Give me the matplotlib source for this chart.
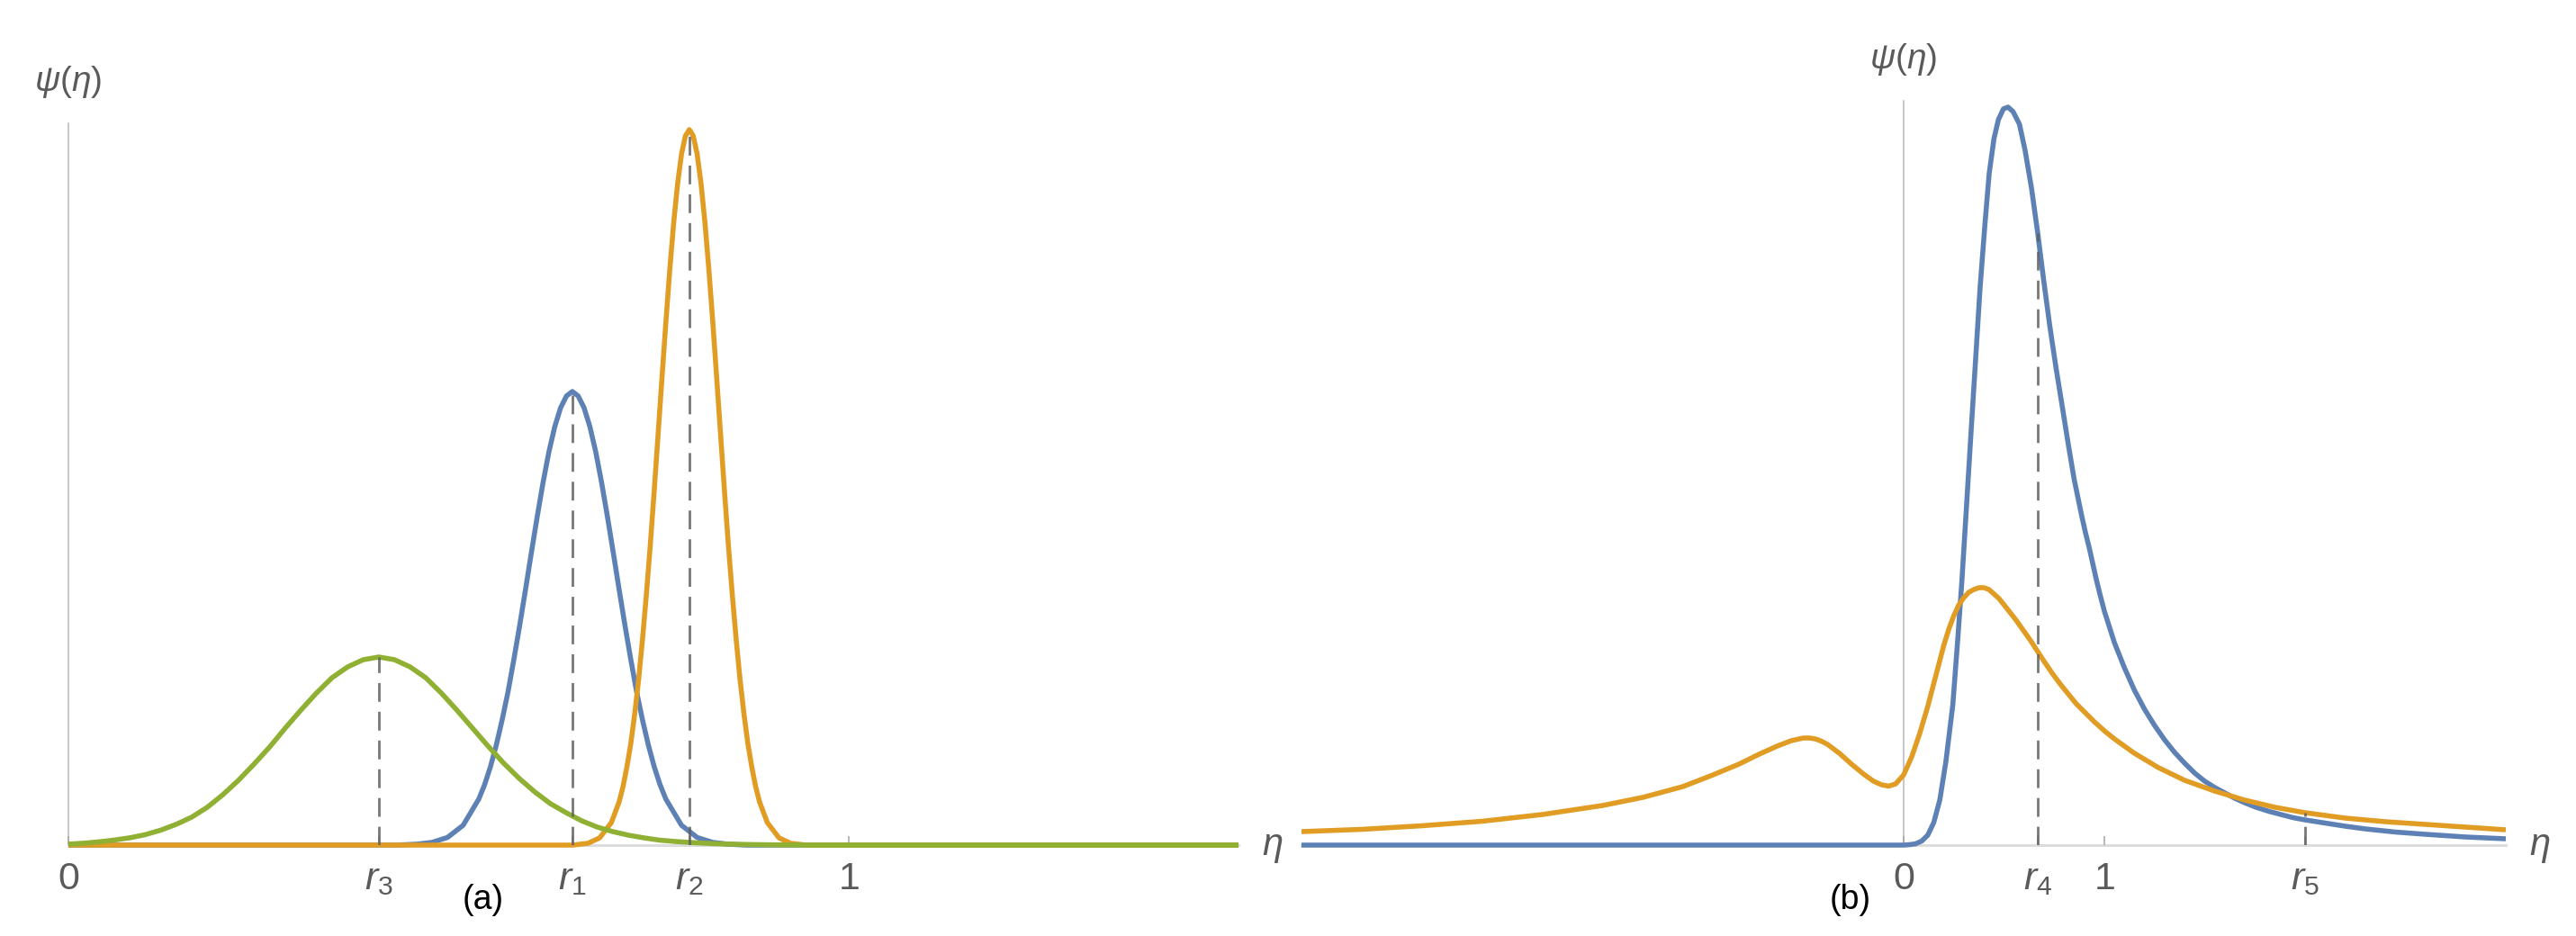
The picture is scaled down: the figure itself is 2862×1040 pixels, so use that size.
import matplotlib
matplotlib.use("Agg")
import matplotlib.pyplot as plt

plt.rcParams["font.family"] = ["Liberation Sans", "DejaVu Sans"]
plt.rcParams["mathtext.fontset"] = "custom"
plt.rcParams["mathtext.rm"] = "Liberation Sans"
plt.rcParams["mathtext.it"] = "Liberation Sans:italic"

BLUE = "#5e81b5"
ORANGE = "#e19c24"
GREEN = "#8fb032"

# ---- panel (a): values (psi in arbitrary units) ----
eta_a_blue = [0, 0.42, 0.446, 0.466, 0.486, 0.506, 0.526, 0.5335, 0.541, 0.5485, 0.556,
              0.5635, 0.571, 0.5785, 0.586, 0.5935, 0.601, 0.6085, 0.616, 0.6235, 0.631,
              0.6385, 0.646, 0.6535, 0.661, 0.6685, 0.676, 0.6835, 0.691, 0.6985, 0.706,
              0.7135, 0.721, 0.7285, 0.736, 0.7435, 0.751, 0.7585, 0.766, 0.786, 0.806,
              0.826, 0.846, 0.87, 1.5]
psi_a_blue = [0, 0, 0.01, 0.03, 0.085, 0.22, 0.51, 0.67, 0.87, 1.11, 1.39,
              1.7, 2.06, 2.44, 2.84, 3.25, 3.65, 4.03, 4.37, 4.65, 4.86,
              4.99, 5.04, 4.99, 4.86, 4.65, 4.37, 4.03, 3.65, 3.25, 2.84,
              2.44, 2.06, 1.7, 1.39, 1.11, 0.87, 0.67, 0.51, 0.22, 0.085,
              0.03, 0.01, 0, 0]

eta_a_orange = [0, 0.646, 0.666, 0.681, 0.696, 0.706, 0.711, 0.716, 0.721, 0.726, 0.731,
                0.736, 0.741, 0.746, 0.751, 0.756, 0.761, 0.766, 0.771, 0.776, 0.781,
                0.786, 0.791, 0.796, 0.801, 0.806, 0.811, 0.816, 0.821, 0.826, 0.831,
                0.836, 0.841, 0.846, 0.851, 0.856, 0.861, 0.866, 0.871, 0.876, 0.881,
                0.886, 0.896, 0.911, 0.926, 0.946, 1.5]
psi_a_orange = [0, 0, 0.02, 0.08, 0.25, 0.48, 0.65, 0.87, 1.13, 1.46, 1.84,
                2.29, 2.79, 3.34, 3.94, 4.57, 5.2, 5.82, 6.4, 6.92, 7.35,
                7.68, 7.88, 7.95, 7.88, 7.68, 7.35, 6.92, 6.4, 5.82, 5.2,
                4.57, 3.94, 3.34, 2.79, 2.29, 1.84, 1.46, 1.13, 0.87, 0.65,
                0.48, 0.25, 0.08, 0.02, 0, 0]

eta_a_green = [0, 0.018, 0.038, 0.058, 0.078, 0.098, 0.118, 0.138, 0.158, 0.178, 0.198,
               0.218, 0.238, 0.258, 0.278, 0.298, 0.318, 0.338, 0.358, 0.378, 0.398,
               0.418, 0.438, 0.458, 0.478, 0.498, 0.518, 0.538, 0.558, 0.578, 0.598,
               0.618, 0.638, 0.658, 0.678, 0.698, 0.718, 0.738, 0.758, 0.778, 0.8,
               0.83, 0.86, 0.9, 0.95, 1.5]
psi_a_green = [0.011, 0.02, 0.035, 0.055, 0.08, 0.115, 0.165, 0.23, 0.31, 0.42, 0.56,
               0.72, 0.9, 1.09, 1.3, 1.5, 1.69, 1.86, 1.98, 2.06, 2.09,
               2.06, 1.98, 1.86, 1.69, 1.5, 1.3, 1.1, 0.91, 0.74, 0.59,
               0.46, 0.36, 0.27, 0.2, 0.15, 0.11, 0.08, 0.055, 0.04, 0.028,
               0.015, 0.008, 0.003, 0, 0]

ticks_a = [0, 0.398, 0.646, 0.796, 1]
tick_labels_a = ["$0$", "$r_3$", "$r_1$", "$r_2$", "$1$"]
peaks_a = [0.398, 0.646, 0.796]
peak_heights_a = [2.09, 5.04, 7.95]

# ---- panel (b) ----
eta_b_blue = [-3.0, 0.0, 0.03, 0.06, 0.09, 0.12, 0.15, 0.18, 0.21, 0.245, 0.27,
              0.29, 0.31, 0.335, 0.36, 0.381, 0.405, 0.426, 0.45, 0.472, 0.497,
              0.52, 0.545, 0.577, 0.605, 0.637, 0.668, 0.698, 0.728, 0.758, 0.789,
              0.819, 0.849, 0.887, 0.906, 0.925, 0.943, 0.96, 0.98, 1.0, 1.05,
              1.1, 1.15, 1.2, 1.25, 1.3, 1.35, 1.4, 1.45, 1.5, 1.55,
              1.6, 1.65, 1.7, 1.756, 1.82, 1.88, 1.94, 2.0, 2.1, 2.2,
              2.3, 2.45, 2.6, 2.8, 3.0]
psi_b_blue = [0, 0, 0.005, 0.015, 0.045, 0.11, 0.25, 0.5, 0.92, 1.56, 2.3,
              2.93, 3.65, 4.56, 5.45, 6.2, 6.9, 7.46, 7.85, 8.06, 8.18,
              8.2, 8.15, 8.01, 7.72, 7.3, 6.8, 6.27, 5.77, 5.32, 4.89,
              4.47, 4.07, 3.66, 3.47, 3.3, 3.12, 2.95, 2.77, 2.6, 2.25,
              1.97, 1.72, 1.51, 1.33, 1.17, 1.03, 0.91, 0.8, 0.71, 0.64,
              0.58, 0.52, 0.47, 0.42, 0.375, 0.34, 0.305, 0.28, 0.245, 0.21,
              0.18, 0.145, 0.12, 0.09, 0.07]

eta_b_orange = [-3.0, -2.7, -2.4, -2.1, -1.8, -1.5, -1.3, -1.1, -0.95, -0.82, -0.72,
                -0.63, -0.56, -0.5, -0.47, -0.44, -0.41, -0.38, -0.32, -0.26, -0.2,
                -0.15, -0.11, -0.075, -0.04, 0.0, 0.04, 0.08, 0.12, 0.16, 0.2,
                0.225, 0.25, 0.275, 0.3, 0.325, 0.35, 0.375, 0.4, 0.425, 0.45,
                0.475, 0.5, 0.56, 0.63, 0.665, 0.7, 0.74, 0.78, 0.82, 0.86,
                0.905, 0.95, 1.0, 1.05, 1.1, 1.15, 1.21, 1.27, 1.335, 1.4,
                1.475, 1.55, 1.625, 1.7, 1.775, 1.85, 1.925, 2.0, 2.2, 2.4,
                2.6, 2.8, 3.0]
psi_b_orange = [0.15, 0.175, 0.215, 0.265, 0.34, 0.44, 0.53, 0.65, 0.78, 0.9, 1.01,
                1.1, 1.16, 1.19, 1.19, 1.18, 1.155, 1.12, 1.02, 0.9, 0.79,
                0.71, 0.67, 0.655, 0.68, 0.78, 0.98, 1.24, 1.54, 1.88, 2.22,
                2.4, 2.55, 2.67, 2.75, 2.81, 2.84, 2.86, 2.86, 2.84, 2.79,
                2.74, 2.67, 2.5, 2.28, 2.16, 2.04, 1.91, 1.79, 1.68, 1.57,
                1.47, 1.37, 1.27, 1.18, 1.1, 1.02, 0.94, 0.86, 0.79, 0.72,
                0.66, 0.6, 0.55, 0.5, 0.46, 0.42, 0.39, 0.36, 0.3, 0.26,
                0.23, 0.2, 0.17]

ticks_b = [0, 0.668, 1, 2.0]
tick_labels_b = ["$0$", "$r_4$", "$1$", "$r_5$"]
marks_b = [0.668, 2.0]
mark_heights_b = [6.8, 0.36]

W, H = 2862, 1040


def setup_axes(ax, xlim, ytop, ticks, labels):
    ax.set_xlim(*xlim)
    ax.set_ylim(0, ytop)
    ax.spines["top"].set_visible(False)
    ax.spines["right"].set_visible(False)
    ax.spines["bottom"].set_color("#dcdcdc")
    ax.spines["bottom"].set_linewidth(2.2)
    ax.spines["bottom"].set_zorder(1)
    ax.spines["left"].set_position(("data", 0))
    ax.spines["left"].set_color("#b8b8b8")
    ax.spines["left"].set_linewidth(1.1)
    ax.spines["left"].set_zorder(1)
    ax.set_yticks([])
    ax.set_xticks(ticks)
    ax.tick_params(axis="x", direction="in", length=7, width=1.1,
                   color="#a6a6a6", labelbottom=False)
    # tick labels share one baseline, so r_i and digits line up
    for t, lab in zip(ticks, labels):
        ax.annotate(lab, xy=(t, 0), xycoords=("data", "axes fraction"),
                    xytext=(0, -35), textcoords="offset points",
                    ha="center", va="baseline", fontsize=31, color="#5a5a5a")
    ax.annotate(r"$\psi(\eta)$", xy=(0, 1), xycoords=("data", "axes fraction"),
                xytext=(0, 33), textcoords="offset points",
                ha="center", va="center", fontsize=28, color="#5a5a5a")
    ax.annotate(r"$\eta$", xy=(1, 0), xycoords="axes fraction",
                xytext=(27, -8), textcoords="offset points",
                ha="center", va="baseline", fontsize=30, color="#5a5a5a")


def curve(ax, x, y, color):
    ax.plot(x, y, color=color, lw=4.0, clip_on=False,
            solid_capstyle="butt", solid_joinstyle="round")


def dashes(ax, x, h):
    ax.vlines(x, 0, h, colors="#5f5f5f", linestyles=(0, (7.5, 4)),
              linewidth=2, alpha=0.85, zorder=3)


fig = plt.figure(figsize=(W / 100, H / 100), dpi=100)

ax_a = fig.add_axes([76 / W, 101 / H, 1300 / W, 802 / H])
setup_axes(ax_a, (0, 1.5), 8.02, ticks_a, tick_labels_a)
curve(ax_a, eta_a_blue, psi_a_blue, BLUE)
curve(ax_a, eta_a_orange, psi_a_orange, ORANGE)
curve(ax_a, eta_a_green, psi_a_green, GREEN)
dashes(ax_a, peaks_a, peak_heights_a)

ax_b = fig.add_axes([1446 / W, 101 / H, 1338 / W, 827 / H])
setup_axes(ax_b, (-3, 3), 8.27, ticks_b, tick_labels_b)
curve(ax_b, eta_b_blue, psi_b_blue, BLUE)
curve(ax_b, eta_b_orange, psi_b_orange, ORANGE)
dashes(ax_b, marks_b, mark_heights_b)

fig.text(537 / W, 40 / H, "(a)", ha="center", va="center", fontsize=27, color="black")
fig.text(2056 / W, 40 / H, "(b)", ha="center", va="center", fontsize=27, color="black")

fig.savefig("out.png", dpi=100)
